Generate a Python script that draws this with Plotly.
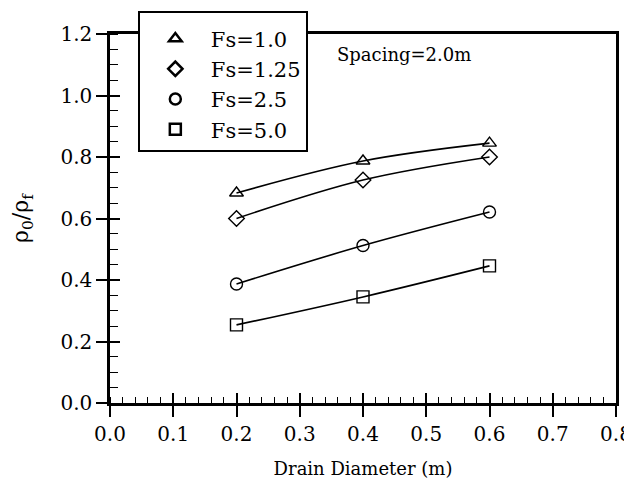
import plotly.graph_objects as go

diameter = [0.2, 0.4, 0.6]
fs_labels = ["Fs=1.0", "Fs=1.25", "Fs=2.5", "Fs=5.0"]
fs_1_0 = [0.683, 0.787, 0.845]
fs_1_25 = [0.600, 0.725, 0.800]
fs_2_5 = [0.387, 0.512, 0.621]
fs_5_0 = [0.254, 0.345, 0.446]
series = [fs_1_0, fs_1_25, fs_2_5, fs_5_0]
symbols = ["triangle-up-open", "diamond-open", "circle-open", "square-open"]
x_ticks = [0.0, 0.1, 0.2, 0.3, 0.4, 0.5, 0.6, 0.7, 0.8]
y_ticks = [0.0, 0.2, 0.4, 0.6, 0.8, 1.0, 1.2]

FONT = "DejaVu Serif"
fig = go.Figure()
for name, vals, sym in zip(fs_labels, series, symbols):
    fig.add_trace(go.Scatter(
        x=diameter, y=vals, mode="lines+markers", showlegend=False,
        line=dict(color="black", width=1.6, shape="spline"),
        marker=dict(symbol=sym, size=12, color="black", line=dict(width=1.4, color="black")),
    ))
for i, (name, sym) in enumerate(zip(fs_labels, symbols)):
    fig.add_trace(go.Scatter(
        x=[None], y=[None], mode="markers", name=name,
        marker=dict(symbol=sym, size=11, color="black", line=dict(width=2.5, color="black")),
    ))

tickfont = dict(family=FONT, size=20, color="black")
axis_common = dict(showgrid=False, zeroline=False, linecolor="black", linewidth=2.5,
                   tickcolor="black", tickwidth=1.5, ticklen=11, tickfont=tickfont)
fig.update_layout(
    width=632, height=480,
    margin=dict(l=102, r=24, t=26, b=85, autoexpand=False),
    paper_bgcolor="white", plot_bgcolor="white",
    font=dict(family=FONT, color="black", size=20),
    xaxis=dict(range=[0, 0.8], tickvals=x_ticks, tickformat=".1f", ticks="outside",
               mirror=True, showline=True,
               minor=dict(dtick=0.02, ticks="inside", ticklen=6, tickcolor="black", tickwidth=1.2),
               title=dict(text="Drain Diameter (m)", font=dict(family=FONT, size=18), standoff=18),
               **axis_common),
    yaxis=dict(range=[0, 1.2], tickvals=y_ticks, tickformat=".1f", ticks="outside",
               mirror=True, showline=True,
               minor=dict(dtick=0.05, ticks="inside", ticklen=8, tickcolor="black", tickwidth=1.2),
               title=dict(text="ρ<sub>0</sub>/ρ<sub>f</sub>", font=dict(family=FONT, size=22), standoff=28),
               **axis_common),
    xaxis2=dict(range=[0, 0.8], tickvals=x_ticks[:-1], ticks="inside", showticklabels=False,
                overlaying="x", anchor="y", showline=False, showgrid=False, zeroline=False,
                tickcolor="black", tickwidth=1.5, ticklen=10),
    yaxis2=dict(range=[0, 1.2], tickvals=y_ticks[:-1], ticks="inside", showticklabels=False,
                overlaying="y", anchor="x", showline=False, showgrid=False, zeroline=False,
                tickcolor="black", tickwidth=1.5, ticklen=10),
    legend=dict(x=0.055, y=1.062, xanchor="left", yanchor="top",
                bgcolor="white", bordercolor="black", borderwidth=2,
                font=dict(family=FONT, size=21), itemwidth=61,
                title=dict(text=" ", font=dict(size=4))),
    annotations=[dict(x=0.355, y=1.132, xref="x", yref="y", text="Spacing=2.0m",
                      showarrow=False, xanchor="left", yanchor="middle",
                      font=dict(family=FONT, size=18))],
)
fig.add_trace(go.Scatter(x=[0, 0.8], y=[0, 1.2], xaxis="x2", yaxis="y2", mode="markers",
                         marker=dict(opacity=0), showlegend=False, hoverinfo="skip"))
fig.write_html("out.html")
